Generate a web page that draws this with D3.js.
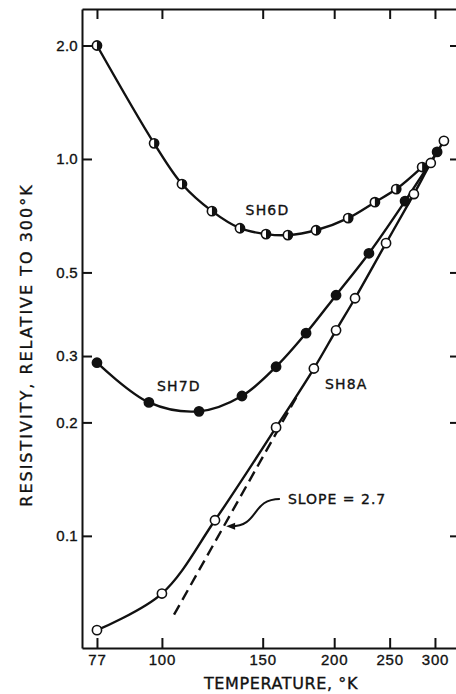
<!DOCTYPE html>
<html>
<head>
<meta charset="utf-8">
<script src="https://cdn.jsdelivr.net/npm/d3@7"></script>
<style>
  body { margin: 0; background: #fff; }
  svg { display: block; font-family: "DejaVu Sans", sans-serif; }
  svg text { fill: #111; stroke: #111; stroke-width: 0.35; }
  .axis path, .axis line { stroke: #111; stroke-width: 2; }
  .axis text { font-size: 15px; }
</style>
</head>
<body>
<div id="chart"></div>
<script>
// resistivity relative to 300 K: [temperature K, ratio]
const sh6d = [[77, 2.0], [96.9, 1.10], [108.4, 0.858], [122.3, 0.727], [136.9, 0.655], [152, 0.632],
  [166, 0.628], [185.9, 0.647], [211.6, 0.697], [235.6, 0.768], [256.7, 0.832], [284.9, 0.952]];
const sh7d = [[77, 0.288], [94.9, 0.226], [116.1, 0.214], [138, 0.235], [158.3, 0.281], [178.6, 0.345],
  [201.5, 0.435], [230, 0.562], [266, 0.773], [302.6, 1.044]];
const sh8a = [[77, 0.0562], [100, 0.0703], [123.8, 0.110], [158.3, 0.194], [184.3, 0.278], [201.5, 0.351],
  [217.5, 0.427], [246.4, 0.598], [275.6, 0.807], [295, 0.976], [311, 1.117]];
// dashed reference line (slope 2.7 on log-log)
const slopeLine = [[105, 0.0618], [172, 0.234]];

const xTicks = [77, 100, 150, 200, 250, 300];
const yTicks = [0.1, 0.2, 0.3, 0.5, 1.0, 2.0];
const yTickLabels = ["0.1", "0.2", "0.3", "0.5", "1.0", "2.0"];

// curve labels: [name, T, R at baseline]
const curveLabels = [["SH6D", 140, 0.712], ["SH7D", 98, 0.243], ["SH8A", 192.7, 0.246]];
const slopeNote = { text: "SLOPE = 2.7", tip: [130, 0.106], at: [166, 0.1215] };

const W = 456, H = 694;
const svg = d3.select("#chart").append("svg").attr("width", W).attr("height", H);

const x = d3.scaleLog().domain([72.5, 326.5]).range([82, 456]);
const y = d3.scaleLog().domain([0.0504, 2.5]).range([648, 9]);

// axes
svg.append("g").attr("class", "axis").attr("transform", "translate(0,648)")
  .call(d3.axisBottom(x).tickValues(xTicks).tickFormat(d3.format("d"))
    .tickSizeInner(-10).tickSizeOuter(0).tickPadding(6))
  .selectAll("text").attr("letter-spacing", 0.8);

svg.append("g").attr("class", "axis").attr("transform", "translate(0,9)")
  .call(d3.axisTop(x).tickValues(xTicks).tickFormat("").tickSizeInner(-10).tickSizeOuter(0));

svg.append("g").attr("class", "axis").attr("transform", "translate(82,0)")
  .call(d3.axisLeft(y).tickValues(yTicks).tickFormat((d, i) => yTickLabels[i])
    .tickSizeInner(-10).tickSizeOuter(0).tickPadding(4))
  .selectAll("text").attr("letter-spacing", 0.3);

svg.append("g").attr("class", "axis").attr("transform", "translate(459,0)")
  .call(d3.axisRight(y).tickValues(yTicks).tickFormat("").tickSizeInner(-9).tickSizeOuter(0));

// axis titles
svg.append("text")
  .attr("x", 281).attr("y", 689)
  .attr("text-anchor", "middle")
  .attr("font-size", 16).attr("letter-spacing", 0.6)
  .text("TEMPERATURE, °K");

svg.append("text")
  .attr("transform", "translate(32,345) rotate(-90)")
  .attr("text-anchor", "middle")
  .attr("font-size", 16).attr("letter-spacing", 2)
  .text("RESISTIVITY, RELATIVE TO 300°K");

// curves
const line = d3.line()
  .x(d => x(d[0])).y(d => y(d[1]))
  .curve(d3.curveCatmullRom.alpha(0.5));

[sh6d, sh7d, sh8a].forEach(s => {
  svg.append("path").datum(s)
    .attr("d", line)
    .attr("fill", "none").attr("stroke", "#111").attr("stroke-width", 2.4);
});

svg.append("path").datum(slopeLine)
  .attr("d", d3.line().x(d => x(d[0])).y(d => y(d[1])))
  .attr("fill", "none").attr("stroke", "#111").attr("stroke-width", 2.4)
  .attr("stroke-dasharray", "11,6");

// markers
const r = 4.6;
svg.append("g").selectAll("circle").data(sh8a).join("circle")
  .attr("cx", d => x(d[0])).attr("cy", d => y(d[1])).attr("r", r)
  .attr("fill", "#fff").attr("stroke", "#111").attr("stroke-width", 1.6);

svg.append("g").selectAll("circle").data(sh7d).join("circle")
  .attr("cx", d => x(d[0])).attr("cy", d => y(d[1])).attr("r", r)
  .attr("fill", "#111").attr("stroke", "#111").attr("stroke-width", 1.6);

const half = svg.append("g").selectAll("g").data(sh6d).join("g")
  .attr("transform", d => `translate(${x(d[0])},${y(d[1])})`);
half.append("circle").attr("r", r)
  .attr("fill", "#fff").attr("stroke", "#111").attr("stroke-width", 1.6);
half.append("path")
  .attr("d", `M0,${-r} A${r},${r} 0 0 1 0,${r} Z`)
  .attr("fill", "#111");

// labels
svg.append("g").selectAll("text").data(curveLabels).join("text")
  .attr("x", d => x(d[1])).attr("y", d => y(d[2]))
  .attr("font-size", 14).attr("letter-spacing", 1.2)
  .text(d => d[0]);

// slope annotation with curved leader
const tx = x(slopeNote.tip[0]), ty = y(slopeNote.tip[1]);
const ax = x(slopeNote.at[0]), ay = y(slopeNote.at[1]) - 5;
svg.append("path")
  .attr("d", `M${tx + 4},${ty} C${tx + 32},${ty} ${tx + 24},${ay} ${ax - 8},${ay}`)
  .attr("fill", "none").attr("stroke", "#111").attr("stroke-width", 2);
svg.append("path")
  .attr("d", `M${tx - 1},${ty} L${tx + 8},${ty - 3.5} L${tx + 8},${ty + 3.5} Z`)
  .attr("fill", "#111");
svg.append("text")
  .attr("x", ax).attr("y", y(slopeNote.at[1]))
  .attr("font-size", 14).attr("letter-spacing", 1)
  .text(slopeNote.text);
</script>
</body>
</html>
